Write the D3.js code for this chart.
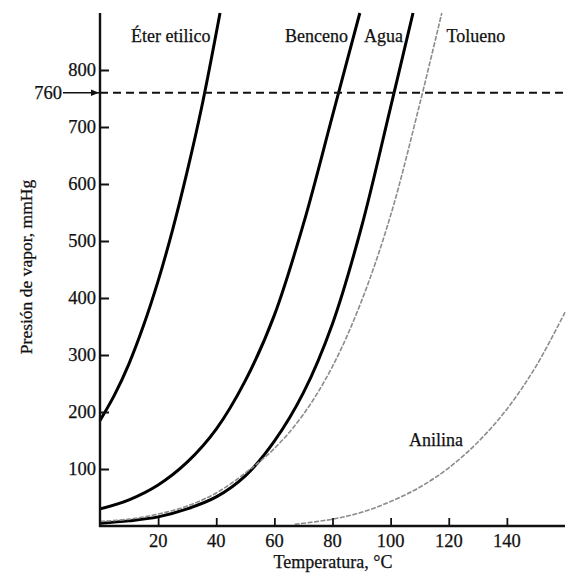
<!DOCTYPE html>
<html>
<head>
<meta charset="utf-8">
<script src="https://cdn.jsdelivr.net/npm/d3@7"></script>
<style>
  html, body { margin: 0; padding: 0; background: #fff; }
  svg { display: block; }
  text { font-family: "Liberation Serif", "DejaVu Serif", serif; fill: #111; stroke: #111; stroke-width: 0.25px; }
</style>
</head>
<body>
<div id="chart"></div>
<script>
// presión de vapor (mmHg) vs temperatura (°C)
const eter     = [[0,185],[5,230],[10,285],[15,352],[20,430],[25,520],[30,622],[35,735],[41.3,900]];
const benceno  = [[0,30],[10,46],[20,72],[30,112],[40,170],[50,255],[60,370],[70,530],[80,720],[89.4,900]];
const agua     = [[0,5],[10,9],[20,16],[30,30],[40,51],[50,88],[60,149],[70,234],[80,355],[90,525],[100,735],[107.7,900]];
const tolueno  = [[0,8],[10,12],[20,21],[30,35],[40,58],[50,93],[60,136],[70,196],[80,280],[90,395],[100,545],[110,740],[117.6,900]];
const anilina  = [[67,3],[80,12],[90,24],[100,43],[110,68],[120,102],[130,147],[140,205],[150,280],[160,375]];

const xTicks = [20, 40, 60, 80, 100, 120, 140];
const yTicks = [100, 200, 300, 400, 500, 600, 700, 800];
const presionAtm = 760;

const width = 574, height = 574;

const svg = d3.select("#chart").append("svg")
  .attr("width", width)
  .attr("height", height);

const x = d3.scaleLinear().domain([0, 160]).range([100, 565]);
const y = d3.scaleLinear().domain([0, 900]).range([526, 13]);

const line = d3.line()
  .x(d => x(d[0]))
  .y(d => y(d[1]))
  .curve(d3.curveCatmullRom.alpha(0.5));

// curvas
const series = [
  { data: eter,    color: "#000", w: 3 },
  { data: benceno, color: "#000", w: 3 },
  { data: agua,    color: "#000", w: 3 },
  { data: tolueno, color: "#8c8c8c", w: 1.6, dash: "5,1.5" },
  { data: anilina, color: "#8c8c8c", w: 1.6, dash: "5,1.5" }
];

series.forEach(s => {
  svg.append("path")
    .datum(s.data)
    .attr("d", line)
    .attr("fill", "none")
    .attr("stroke", s.color)
    .attr("stroke-width", s.w)
    .attr("stroke-dasharray", s.dash || null);
});

// línea de 760 mmHg
svg.append("line")
  .attr("x1", x(0)).attr("x2", 568)
  .attr("y1", y(presionAtm)).attr("y2", y(presionAtm))
  .attr("stroke", "#111")
  .attr("stroke-width", 2)
  .attr("stroke-dasharray", "8,5");

// ejes
const yAxis = d3.axisRight(y).tickValues(yTicks).tickSize(9).tickFormat("");
svg.append("g")
  .attr("transform", "translate(" + x(0) + ",0)")
  .call(yAxis)
  .call(g => g.select(".domain").remove())
  .call(g => g.selectAll("line").attr("stroke", "#111").attr("stroke-width", 2));

const xAxis = d3.axisTop(x).tickValues(xTicks).tickSize(8).tickFormat("");
svg.append("g")
  .attr("transform", "translate(0," + y(0) + ")")
  .call(xAxis)
  .call(g => g.select(".domain").remove())
  .call(g => g.selectAll("line").attr("stroke", "#111").attr("stroke-width", 1.8));

svg.append("line")
  .attr("x1", x(0)).attr("x2", x(0))
  .attr("y1", y(0) + 1).attr("y2", y(900))
  .attr("stroke", "#111").attr("stroke-width", 2.4);

svg.append("line")
  .attr("x1", x(0) - 1).attr("x2", x(160))
  .attr("y1", y(0)).attr("y2", y(0))
  .attr("stroke", "#111").attr("stroke-width", 2.6);

// etiquetas de ticks
svg.selectAll(".ylab")
  .data(yTicks)
  .enter()
  .append("text")
  .attr("x", x(0) - 4)
  .attr("y", d => y(d) + 6)
  .attr("text-anchor", "end")
  .style("font-size", "18.5px")
  .text(d => d);

svg.selectAll(".xlab")
  .data(xTicks)
  .enter()
  .append("text")
  .attr("x", d => x(d))
  .attr("y", y(0) + 21)
  .attr("text-anchor", "middle")
  .style("font-size", "18.5px")
  .text(d => d);

// 760 con flecha
svg.append("defs").append("marker")
  .attr("id", "flecha")
  .attr("viewBox", "0 0 10 10")
  .attr("refX", 10).attr("refY", 5)
  .attr("markerWidth", 5).attr("markerHeight", 5)
  .attr("orient", "auto")
  .append("path")
  .attr("d", "M0,1 L10,5 L0,9 z")
  .attr("fill", "#111");

svg.append("line")
  .attr("x1", 63).attr("x2", x(0) - 1)
  .attr("y1", y(presionAtm)).attr("y2", y(presionAtm))
  .attr("stroke", "#111")
  .attr("stroke-width", 1.6)
  .attr("marker-end", "url(#flecha)");

svg.append("text")
  .attr("x", 62)
  .attr("y", y(presionAtm) + 6)
  .attr("text-anchor", "end")
  .style("font-size", "18.5px")
  .text(presionAtm);

// nombres de las curvas
const nombres = [
  { t: "Éter etilico", T: 38.0, P: 850, anchor: "end" },
  { t: "Benceno",      T: 85.3, P: 850, anchor: "end" },
  { t: "Agua",         T: 104.3, P: 850, anchor: "end" },
  { t: "Tolueno",      T: 119.2, P: 850, anchor: "start" },
  { t: "Anilina",      T: 115.6, P: 140, anchor: "middle" }
];

svg.selectAll(".nombre")
  .data(nombres)
  .enter()
  .append("text")
  .attr("x", d => x(d.T))
  .attr("y", d => y(d.P))
  .attr("text-anchor", d => d.anchor)
  .style("font-size", "18px")
  .text(d => d.t);

// títulos de los ejes
svg.append("text")
  .attr("x", 333)
  .attr("y", 568)
  .attr("text-anchor", "middle")
  .style("font-size", "18px")
  .text("Temperatura, °C");

svg.append("text")
  .attr("transform", "translate(32,267) rotate(-90)")
  .attr("text-anchor", "middle")
  .style("font-size", "17.5px")
  .text("Presión de vapor, mmHg");
</script>
</body>
</html>
